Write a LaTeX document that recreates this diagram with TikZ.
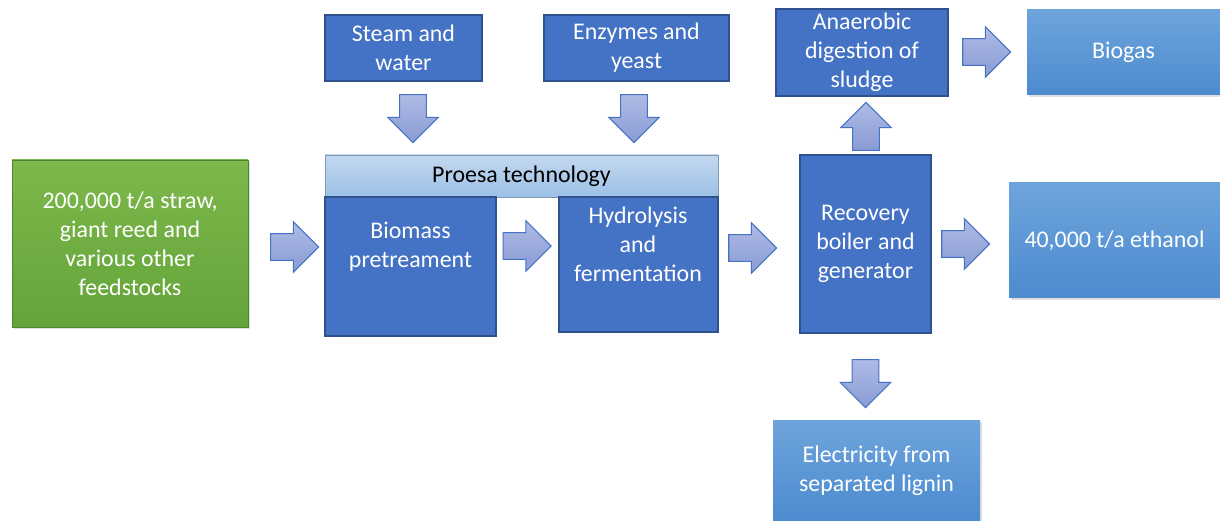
\documentclass[tikz,border=0pt]{standalone}
\usepackage{fontspec}
\setmainfont{Carlito}
\usepackage{tikz}
\usetikzlibrary{positioning,shapes.arrows,shadows,calc}
\definecolor{ProcBlue}{HTML}{4472C4}
\definecolor{ProcEdge}{HTML}{2F528F}
\definecolor{OutTop}{HTML}{6EA4DC}
\definecolor{OutBot}{HTML}{4C8BCF}
\definecolor{FeedTop}{HTML}{7DB84B}
\definecolor{FeedBot}{HTML}{63A43A}
\definecolor{HdrTop}{HTML}{C3D8EF}
\definecolor{HdrBot}{HTML}{9CC0E6}
\definecolor{ArrTop}{HTML}{AEBBE5}
\definecolor{ArrBot}{HTML}{8A9BD4}

\begin{document}
\begin{tikzpicture}[
  font=\fontsize{17pt}{20.6pt}\selectfont,
  proc/.style={draw=ProcEdge,line width=1.2pt,fill=ProcBlue,text=white,
               align=center,inner sep=0pt},
  txt/.style={text=white,align=center,inner sep=0pt},
  prod/.style={top color=OutTop,bottom color=OutBot,text=white,align=center,
               inner sep=0pt,drop shadow={opacity=0.25,shadow xshift=0.04cm,shadow yshift=-0.05cm}},
  feed/.style={draw=FeedBot!80!black,line width=0.4pt,top color=FeedTop,bottom color=FeedBot,
               text=white,align=center,inner sep=0pt,
               drop shadow={opacity=0.25,shadow xshift=0.04cm,shadow yshift=-0.05cm}},
  hdr/.style={draw=HdrBot!80!black,line width=0.4pt,top color=HdrTop,bottom color=HdrBot,
              text=black,align=center,inner sep=0pt},
  blk/.style={single arrow,draw=ProcBlue,line width=0.8pt,top color=ArrTop,bottom color=ArrBot,
              minimum height=1.2cm,single arrow head extend=0.3cm,inner sep=0.32cm},
]
\useasboundingbox (0,0) rectangle (30.5,-13.025);

% Feedstock on the left
\node[feed,minimum width=5.9cm,minimum height=4.175cm] (feed) at (3.25,-6.0875)
  {200,000 t/a straw,\\giant reed and\\various other\\feedstocks};

% Inputs on top
\node[proc,minimum width=3.925cm,minimum height=1.65cm] (steam) at (10.0875,-1.2) {Steam and\\water};
\node[proc,minimum width=4.625cm,minimum height=1.65cm] (enz)   at (15.9125,-1.2) {Enzymes and\\yeast};

% Proesa block: header bar over the two process boxes
\node[hdr,minimum width=9.825cm,minimum height=1.05cm] (proesa) at (13.0375,-4.4) {Proesa technology};
\node[proc,minimum width=4.275cm,minimum height=3.475cm] (bio)   at (10.2625,-6.6625) {};
\node[txt] (biotx) at (10.2625,-6.1625) {Biomass\\pretreament};
\node[proc,minimum width=3.975cm,minimum height=3.375cm] (hydro) at (15.9625,-6.6125) {};
\node[txt] (hydrotx) at (15.95,-6.1) {Hydrolysis\\and\\fermentation};

% Recovery and its outputs
\node[proc,minimum width=3.275cm,minimum height=4.45cm] (rec) at (21.6375,-6.1)
  {Recovery\\boiler and\\generator};
\node[proc,minimum width=4.3cm,minimum height=2.175cm] (anae) at (21.55,-1.3125)
  {Anaerobic\\digestion of\\sludge};
\node[prod,minimum width=4.825cm,minimum height=2.125cm] (biogas) at (28.0875,-1.3125) {Biogas};
\node[prod,minimum width=5.275cm,minimum height=2.875cm] (eth) at (27.8625,-6.0125) {40,000 t/a ethanol};
\node[prod,minimum width=5.175cm,minimum height=2.525cm] (elec) at (21.9125,-11.7625)
  {Electricity from\\separated lignin};

% Block arrows between the boxes
\node[blk] (a1) at (7.2,-6.175) {};
\node[blk] (a2) at (13.0125,-6.15) {};
\node[blk] (a3) at (18.65,-6.2) {};
\node[blk] (a4) at (23.975,-6.1) {};
\node[blk] (a5) at (24.5,-1.3) {};
\node[blk,rotate=-90] (a6) at (10.325,-2.8) {};
\node[blk,rotate=-90] (a7) at (15.85,-2.8) {};
\node[blk,rotate=90]  (a8) at (21.65,-3.325) {};
\node[blk,rotate=-90] (a9) at (21.6375,-9.425) {};
\end{tikzpicture}
\end{document}
